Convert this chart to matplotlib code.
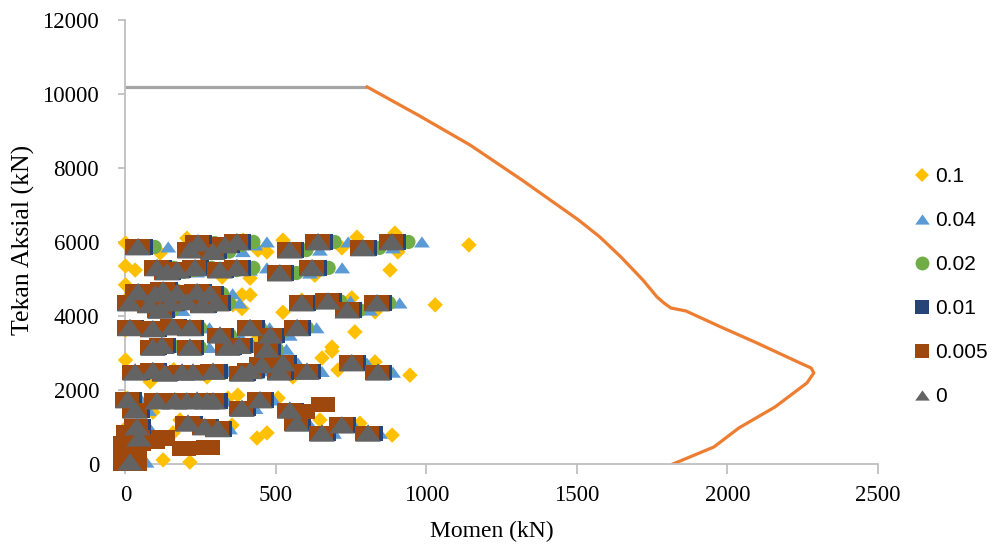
import matplotlib
matplotlib.use("Agg")
import matplotlib.pyplot as plt
from matplotlib.path import Path
from matplotlib.lines import Line2D

# Axial load levels shared by the 0, 0.005, 0.01, 0.02 and 0.04 runs (kN)
axial = [5865, 5780, 5970, 5740, 5920, 6000, 5780, 6000, 5840, 6000,
         5300, 5190, 5240, 5300, 5240, 5300, 5160, 5300,
         4650, 4600, 4700, 4620, 4650, 4600,
         4350, 4300, 4350, 4380, 4300, 4350, 4150, 4350, 4400, 4160, 4350,
         3680, 3650, 3700, 3680, 3680, 3680, 3480, 3480,
         3150, 3200, 3150, 3150, 3200, 3100,
         2730, 2730, 2680,
         2480, 2520, 2450, 2480, 2480, 2500, 2450, 2520, 2480, 2500, 2480,
         1730, 1700, 1700, 1700, 1720, 1700, 1700, 1730,
         1450, 1500, 1450,
         1000, 1100, 1000, 950, 1100, 1050, 830, 830, 700, 50]

# Moments for each run (kN)
moment_0 = [42, 214, 241, 290, 331, 370, 546, 640, 789, 885,
            105, 138, 171, 231, 314, 370, 513, 620,
            42, 100, 125, 171, 238, 281,
            15, 81, 150, 204, 257, 304, 115, 586, 673, 737, 836,
            15, 91, 158, 214, 414, 570, 314, 481,
            91, 121, 214, 340, 377, 470,
            523, 752, 453,
            32, 91, 131, 188, 224, 291, 387, 414, 513, 603, 839,
            8, 105, 164, 204, 238, 271, 291, 447,
            32, 387, 546,
            38, 208, 264, 307, 570, 719, 653, 806, 45, 15]

moment_0005 = [40, 212, 239, 288, 329, 368, 544, 638, 787, 883,
               103, 136, 169, 229, 312, 368, 511, 618,
               40, 98, 123, 169, 236, 279,
               13, 79, 148, 202, 255, 302, 113, 584, 671, 735, 834,
               13, 89, 156, 212, 412, 568, 312, 479,
               89, 119, 212, 338, 375, 468,
               521, 750, 451,
               30, 89, 129, 186, 222, 289, 385, 412, 511, 601, 837,
               6, 103, 162, 202, 236, 269, 289, 445,
               30, 385, 544,
               36, 206, 262, 305, 568, 717, 651, 804, 43, 13]
moment_0005_extra = [0, 30, 0, 30, 0, 45, 90, 125, 10, 195, 275, 656, 590]
axial_0005_extra = [30, 30, 280, 280, 560, 560, 600, 700, 850, 420, 450, 1600, 1420]

moment_001 = [50, 222, 249, 298, 339, 378, 554, 648, 797, 893,
              113, 146, 179, 239, 322, 378, 521, 628,
              50, 108, 133, 179, 246, 289,
              23, 89, 158, 212, 265, 312, 123, 594, 681, 745, 844,
              23, 99, 166, 222, 422, 578, 322, 489,
              99, 129, 222, 348, 385, 478,
              531, 760, 461,
              40, 99, 139, 196, 232, 299, 395, 422, 521, 611, 847,
              16, 113, 172, 212, 246, 279, 299, 455,
              40, 395, 554,
              46, 216, 272, 315, 578, 727, 661, 814, 53, 23]

moment_002 = [97, 269, 296, 345, 386, 425, 601, 695, 844, 940,
              160, 193, 226, 286, 369, 425, 568, 675,
              82, 140, 165, 211, 278, 321,
              55, 121, 190, 244, 297, 344, 155, 626, 713, 777, 876,
              48, 124, 191, 247, 447, 603, 347, 514,
              124, 154, 247, 373, 410, 503,
              548, 777, 478,
              57, 116, 156, 213, 249, 316, 412, 439, 538, 628, 864,
              30, 127, 186, 226, 260, 293, 313, 469,
              54, 409, 568,
              58, 228, 284, 327, 590, 739, 673, 826, 65, 35]

moment_004 = [142, 314, 341, 390, 431, 470, 646, 740, 889, 985,
              205, 238, 271, 331, 414, 470, 613, 720,
              117, 175, 200, 246, 313, 356,
              90, 156, 225, 279, 332, 379, 190, 661, 748, 812, 911,
              80, 156, 223, 279, 479, 635, 379, 546,
              156, 186, 279, 405, 442, 535,
              573, 802, 503,
              82, 141, 181, 238, 274, 341, 437, 464, 563, 653, 889,
              53, 150, 209, 249, 283, 316, 336, 492,
              77, 432, 591,
              78, 248, 304, 347, 610, 759, 693, 846, 85, 70]

# The 0.1 run spreads out more, so it keeps its own load list
moment_01 = [0, 115, 204, 391, 440, 470, 523, 769, 719, 895, 905, 1141,
             32, 321, 414, 629, 879, 0,
             0, 387, 414, 0, 586, 752,
             357, 387, 523, 829, 1029,
             0, 762, 250, 440,
             686, 686, 653, 829, 0, 556, 706, 945, 82, 271, 160,
             0, 58, 91, 340, 373, 507, 181, 0, 354, 646, 779,
             158, 437, 470, 886, 125, 214]
axial_01 = [5970, 5700, 6100, 6050, 5780, 5730, 6050, 6130, 5840, 6240, 5730, 5920,
            5240, 5050, 5020, 5100, 5240, 5350,
            4840, 4570, 4570, 4430, 4430, 4490,
            4300, 4200, 4100, 4110, 4300,
            3620, 3570, 3700, 3400,
            3160, 3050, 2865, 2760, 2810, 2350, 2540, 2400, 2220, 2350, 2550,
            1780, 1460, 1400, 1780, 1860, 1780, 1190, 970, 1050, 1190, 1100,
            840, 700, 840, 780, 110, 50]

# Interaction diagram
curve_moment = [803, 972, 1145, 1317, 1505, 1576, 1646, 1719, 1766, 1789, 1812,
                1862, 1978, 2098, 2241, 2278, 2287, 2264, 2158, 2038, 1955, 1819]
curve_axial = [10190, 9430, 8620, 7676, 6595, 6135, 5595, 4973, 4514, 4351, 4216,
               4135, 3703, 3270, 2730, 2595, 2460, 2189, 1540, 973, 459, 0]
cap_moment = [0, 803]
cap_axial = [10190, 10190]

labels = ["0.1", "0.04", "0.02", "0.01", "0.005", "0"]
colors = ["#FFC000", "#5B9BD5", "#70AD47", "#264478", "#9E480E", "#636363"]


def closed(pts):
    codes = [Path.MOVETO] + [Path.LINETO] * (len(pts) - 1) + [Path.CLOSEPOLY]
    return Path(pts + [pts[0]], codes)


tri = closed([(0, 0.7), (-1, -0.7), (1, -0.7)])
tri_wide = closed([(0, 0.7), (-1, -0.66), (1, -0.66)])
rect = closed([(-1, -0.64), (1, -0.64), (1, 0.64), (-1, 0.64)])

fig = plt.figure(figsize=(9.92, 5.54), dpi=100)
ax = fig.add_axes([0.1265, 0.1625, 0.7585, 0.8015])

ax.plot(cap_moment, cap_axial, color="#A5A5A5", lw=2.3, solid_capstyle="butt", zorder=1)
ax.plot(curve_moment, curve_axial, color="#ED7D31", lw=2.3, zorder=1)

# overlapping runs share a load row, so the low-ratio clusters are drawn wide
series = [
    (moment_01, axial_01, "D", 62),
    (moment_004, axial, tri, 130),
    (moment_002, axial, "o", 105),
    (moment_001, axial, rect, 300),
    (moment_0005 + moment_0005_extra, axial + axial_0005_extra, rect, 300),
    (moment_0, axial, tri_wide, 340),
]
for (mx, py, mk, sz), col in zip(series, colors):
    ax.scatter(mx, py, marker=mk, s=sz, color=col, edgecolors="none",
               clip_on=False, zorder=3)

ax.set_xlim(0, 2500)
ax.set_ylim(0, 12000)
ax.set_xticks(range(0, 2501, 500))
ax.set_yticks(range(0, 12001, 2000))

for side in ["top", "right"]:
    ax.spines[side].set_visible(False)
for side in ["left", "bottom"]:
    ax.spines[side].set_color("#BFBFBF")
    ax.spines[side].set_linewidth(1.3)
ax.tick_params(axis="x", length=7, width=1.3, color="#BFBFBF", pad=8)
ax.tick_params(axis="y", length=5, width=1.3, color="#BFBFBF", pad=14)

serif = "Liberation Serif"
for t in ax.get_xticklabels() + ax.get_yticklabels():
    t.set_fontfamily(serif)
    t.set_fontsize(16.5)
ax.set_xlabel("Momen (kN)", fontfamily=serif, fontsize=17)
ax.xaxis.set_label_coords(0.487, -0.128)
ax.set_ylabel("Tekan Aksial (kN)", fontfamily=serif, fontsize=18.5)
ax.yaxis.set_label_coords(-0.12, 0.505)

# legend keys drawn at a fixed size
key_markers = ["D", tri, "o", "s", "s", tri]
key_sizes = [7.5, 10.5, 10, 10, 10, 10.5]
handles = [Line2D([], [], ls="none", marker=mk, color=col, markeredgewidth=0,
                  markersize=ms)
           for mk, ms, col in zip(key_markers, key_sizes, colors)]
ax.legend(handles, labels, loc="upper left", bbox_to_anchor=(1.02, 0.71),
          frameon=False, prop={"family": "Liberation Sans", "size": 15},
          labelspacing=1.2, handletextpad=0.1, handlelength=1.0)

plt.savefig("out.png", dpi=100)
